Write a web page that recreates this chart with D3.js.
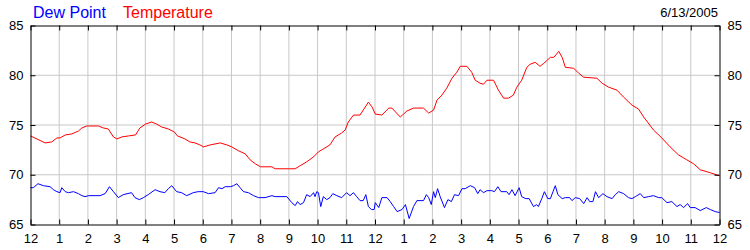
<!DOCTYPE html>
<html>
<head>
<meta charset="utf-8">
<script src="https://cdn.jsdelivr.net/npm/d3@7.9.0/dist/d3.min.js"></script>
<style>
  body { margin: 0; background: #fff; }
  svg { display: block; font-family: "Liberation Sans", Arial, sans-serif; }
</style>
</head>
<body>
<svg id="chart" width="750" height="250"></svg>
<script>
const dateLabel = '6/13/2005';
const hourLabels = ['12', '1', '2', '3', '4', '5', '6', '7', '8', '9', '10', '11',
    '12', '1', '2', '3', '4', '5', '6', '7', '8', '9', '10', '11', '12'];
const yTicks = [65, 70, 75, 80, 85];

// temperature, hours since midnight
const tempHours = [0, 0.51, 0.74, 0.92, 1.03, 1.21, 1.44, 1.67, 1.79, 1.96, 2.03, 2.37, 2.54, 2.71, 2.89,
    3.01, 3.18, 3.41, 3.66, 3.81, 4.01, 4.22, 4.39, 4.57, 4.8, 5.01, 5.12, 5.38, 5.55, 5.73, 5.9,
    6.03, 6.26, 6.61, 6.84, 7.01, 7.25, 7.48, 7.65, 7.83, 8.01, 8.41, 8.52, 9.02, 9.22, 9.39, 9.62,
    9.86, 10.03, 10.2, 10.43, 10.61, 10.84, 10.96, 11.07, 11.25, 11.48, 11.77, 11.9, 12.01, 12.24,
    12.48, 12.59, 12.88, 13.11, 13.34, 13.69, 13.87, 14.04, 14.16, 14.33, 14.5, 14.68, 14.85, 14.97,
    15.2, 15.37, 15.49, 15.66, 15.78, 15.9, 16.13, 16.3, 16.48, 16.65, 16.82, 16.94, 17.11, 17.29,
    17.4, 17.58, 17.75, 17.88, 18.11, 18.23, 18.4, 18.52, 18.63, 18.92, 19.1, 19.27, 19.73, 19.91,
    20.14, 20.43, 20.66, 20.95, 21.18, 21.36, 21.7, 21.99, 22.28, 22.57, 22.86, 23.1, 23.33, 23.68, 24];
const tempValues = [73.9, 73.2, 73.3, 73.7, 73.7, 74.0, 74.1, 74.4, 74.7, 74.9, 74.9, 74.9, 74.7, 74.6, 73.8,
    73.6, 73.8, 73.9, 74.0, 74.7, 75.1, 75.3, 75.1, 74.8, 74.6, 74.3, 73.9, 73.6, 73.3, 73.2, 73.0,
    72.8, 73.0, 73.2, 73.0, 72.8, 72.4, 72.1, 71.5, 71.1, 70.8, 70.8, 70.6, 70.6, 70.6, 70.9, 71.3,
    71.8, 72.3, 72.6, 73.0, 73.8, 74.2, 74.5, 75.3, 76.0, 76.0, 77.3, 76.8, 76.1, 76.0,
    76.7, 76.7, 75.8, 76.4, 76.7, 76.7, 76.2, 76.5, 77.5, 78.0, 78.7, 79.7, 80.3, 80.9,
    80.9, 80.3, 79.5, 79.2, 79.1, 79.5, 79.5, 78.5, 77.7, 77.7, 78.0, 78.8, 79.5, 80.8,
    81.1, 81.3, 80.9, 81.2, 81.8, 81.8, 82.4, 81.8, 80.8, 80.7, 80.2, 79.8, 79.7, 79.2,
    78.8, 78.5, 77.8, 77.0, 76.6, 75.8, 74.5, 73.7, 72.8, 72.0, 71.5, 71.1, 70.5, 70.2, 69.9];

// dew point, hours since midnight
const dewHours = [0, 0.1, 0.26, 0.45, 0.68, 0.8, 0.92, 1.03, 1.09, 1.21, 1.32, 1.5, 1.67, 1.79, 1.9, 2.03,
    2.42, 2.6, 2.75, 2.89, 3.06, 3.23, 3.52, 3.64, 3.79, 3.93, 4.1, 4.34, 4.51, 4.68, 4.8, 4.92, 5.09,
    5.26, 5.44, 5.67, 5.84, 6.02, 6.2, 6.43, 6.55, 6.67, 6.78, 6.96, 7.07, 7.19, 7.3, 7.42, 7.59, 7.77,
    7.94, 8.17, 8.41, 8.52, 8.93, 9.1, 9.22, 9.3, 9.39, 9.51, 9.62, 9.74, 9.86, 9.91, 9.97, 10.03,
    10.11, 10.2, 10.32, 10.43, 10.53, 10.67, 10.84, 11.01, 11.13, 11.25, 11.36, 11.48, 11.59, 11.68,
    11.77, 11.88, 11.97, 12.01, 12.13, 12.24, 12.42, 12.53, 12.65, 12.77, 12.94, 13.06, 13.19, 13.34,
    13.46, 13.69, 13.79, 13.87, 13.96, 14.04, 14.1, 14.18, 14.27, 14.42, 14.54, 14.66, 14.77, 14.91,
    15.03, 15.14, 15.32, 15.47, 15.58, 15.66, 15.78, 15.9, 16.07, 16.16, 16.28, 16.39, 16.59, 16.67,
    16.77, 16.88, 17.02, 17.11, 17.25, 17.37, 17.52, 17.63, 17.69, 17.81, 17.9, 18.02, 18.11, 18.2,
    18.28, 18.37, 18.52, 18.63, 18.78, 18.86, 18.98, 19.13, 19.27, 19.39, 19.48, 19.59, 19.68, 19.79,
    19.94, 20.08, 20.26, 20.37, 20.49, 20.66, 20.83, 20.95, 21.07, 21.24, 21.36, 21.53, 21.7, 21.88,
    21.99, 22.17, 22.34, 22.52, 22.63, 22.75, 22.89, 22.98, 23.15, 23.33, 23.54, 23.68, 23.85, 24];
const dewValues = [68.7, 68.7, 69.1, 68.9, 68.8, 68.5, 68.3, 68.2, 68.7, 68.3, 68.2, 68.3, 68.1, 67.9, 67.8, 67.9,
    67.9, 68.1, 68.8, 68.3, 67.7, 68.0, 68.2, 67.7, 67.5, 67.7, 68.0, 68.5, 68.3, 68.2, 68.6, 68.9, 68.3,
    68.2, 67.9, 68.2, 68.3, 68.3, 68.1, 68.2, 68.7, 68.6, 68.8, 68.8, 68.9, 69.1, 68.7, 68.3, 68.2, 67.9,
    67.7, 67.7, 67.9, 67.8, 67.8, 67.2, 66.9, 67.3, 67.0, 67.2, 68.0, 67.8, 68.2, 67.8, 68.3, 68.2,
    66.8, 67.8, 67.5, 67.7, 68.1, 67.9, 67.7, 68.2, 67.9, 68.2, 67.8, 67.4, 67.4, 68.0,
    66.8, 66.5, 66.5, 67.2, 66.7, 67.7, 67.7, 67.3, 66.8, 66.3, 66.5, 67.0, 65.6, 66.8,
    67.4, 67.4, 68.0, 67.7, 67.0, 68.3, 67.7, 68.6, 67.8, 66.7, 67.5, 67.3, 68.0, 67.9,
    68.6, 68.6, 68.9, 68.7, 68.1, 68.5, 68.2, 68.4, 68.4, 68.3, 68.8, 68.3, 68.3, 68.0,
    68.5, 67.9, 68.7, 67.8, 67.6, 67.6, 66.8, 67.0, 66.8, 67.6, 68.3, 67.6, 67.6, 68.3,
    68.9, 68.0, 67.6, 67.7, 67.7, 67.4, 67.7, 67.6, 67.1, 67.7, 67.3, 67.3, 68.3, 67.7,
    68.1, 67.8, 67.6, 68.0, 68.3, 68.1, 67.7, 67.6, 67.8, 68.1, 67.7, 67.8, 67.9, 67.7,
    67.7, 67.2, 67.3, 66.8, 67.0, 66.7, 67.1, 66.7, 66.7, 66.4, 66.7, 66.5, 66.3, 66.2];

const svg = d3.select('#chart');
const fontFamily = '"Liberation Sans", Arial, sans-serif';

let x = d3.scaleLinear().domain([0, 24]).range([30.5, 719.5]);
let y = d3.scaleLinear().domain([65, 85]).range([224.5, 25.5]);

// Gridlines
svg.append('g')
    .selectAll('line')
    .data(d3.range(1, 24))
    .join('line')
    .attr('x1', (d) => x(d)).attr('x2', (d) => x(d))
    .attr('y1', y(85)).attr('y2', y(65))
    .attr('stroke', '#c8c8c8');

svg.append('g')
    .selectAll('line')
    .data(yTicks.slice(1, -1))
    .join('line')
    .attr('x1', x(0)).attr('x2', x(24))
    .attr('y1', (d) => y(d)).attr('y2', (d) => y(d))
    .attr('stroke', '#c8c8c8');

// Lines
let dewLine = d3.line().x((d) => x(d[0])).y((d) => y(d[1]));
svg.append('path')
    .attr('d', dewLine(dewHours.map((h, i) => [h, dewValues[i]])))
    .attr('fill', 'none')
    .attr('stroke', '#0000ff')
    .attr('stroke-width', 1);

svg.append('path')
    .attr('d', dewLine(tempHours.map((h, i) => [h, tempValues[i]])))
    .attr('fill', 'none')
    .attr('stroke', '#ff0000')
    .attr('stroke-width', 1);

// Axes, ticks pointing inward
function styleAxis(g) {
    g.attr('font-size', 13).attr('font-family', fontFamily);
    g.selectAll('path, line').attr('stroke', '#000');
    g.selectAll('text').attr('fill', '#000');
}

svg.append('g')
    .attr('transform', `translate(0,${y(65)})`)
    .call(d3.axisBottom(x).tickValues(d3.range(0, 25))
        .tickFormat((d) => hourLabels[d])
        .tickSizeInner(-5).tickSizeOuter(0).tickPadding(9))
    .call(styleAxis);

svg.append('g')
    .attr('transform', `translate(0,${y(85)})`)
    .call(d3.axisTop(x).tickValues(d3.range(0, 25))
        .tickFormat('').tickSizeInner(-5).tickSizeOuter(0))
    .call(styleAxis);

svg.append('g')
    .attr('transform', `translate(${x(0)},0)`)
    .call(d3.axisLeft(y).tickValues(yTicks)
        .tickSizeInner(-5).tickSizeOuter(0).tickPadding(7))
    .call(styleAxis);

svg.append('g')
    .attr('transform', `translate(${x(24)},0)`)
    .call(d3.axisRight(y).tickValues(yTicks)
        .tickSizeInner(-5).tickSizeOuter(0).tickPadding(8))
    .call(styleAxis);

// Legend and date
svg.append('text')
    .attr('x', 33).attr('y', 18)
    .attr('font-size', 16).attr('fill', '#0000ff')
    .text('Dew Point');

svg.append('text')
    .attr('x', 123).attr('y', 18)
    .attr('font-size', 16).attr('fill', '#ff0000')
    .text('Temperature');

svg.append('text')
    .attr('x', 718).attr('y', 17)
    .attr('text-anchor', 'end')
    .attr('font-size', 13).attr('fill', '#000')
    .text(dateLabel);
</script>
</body>
</html>
